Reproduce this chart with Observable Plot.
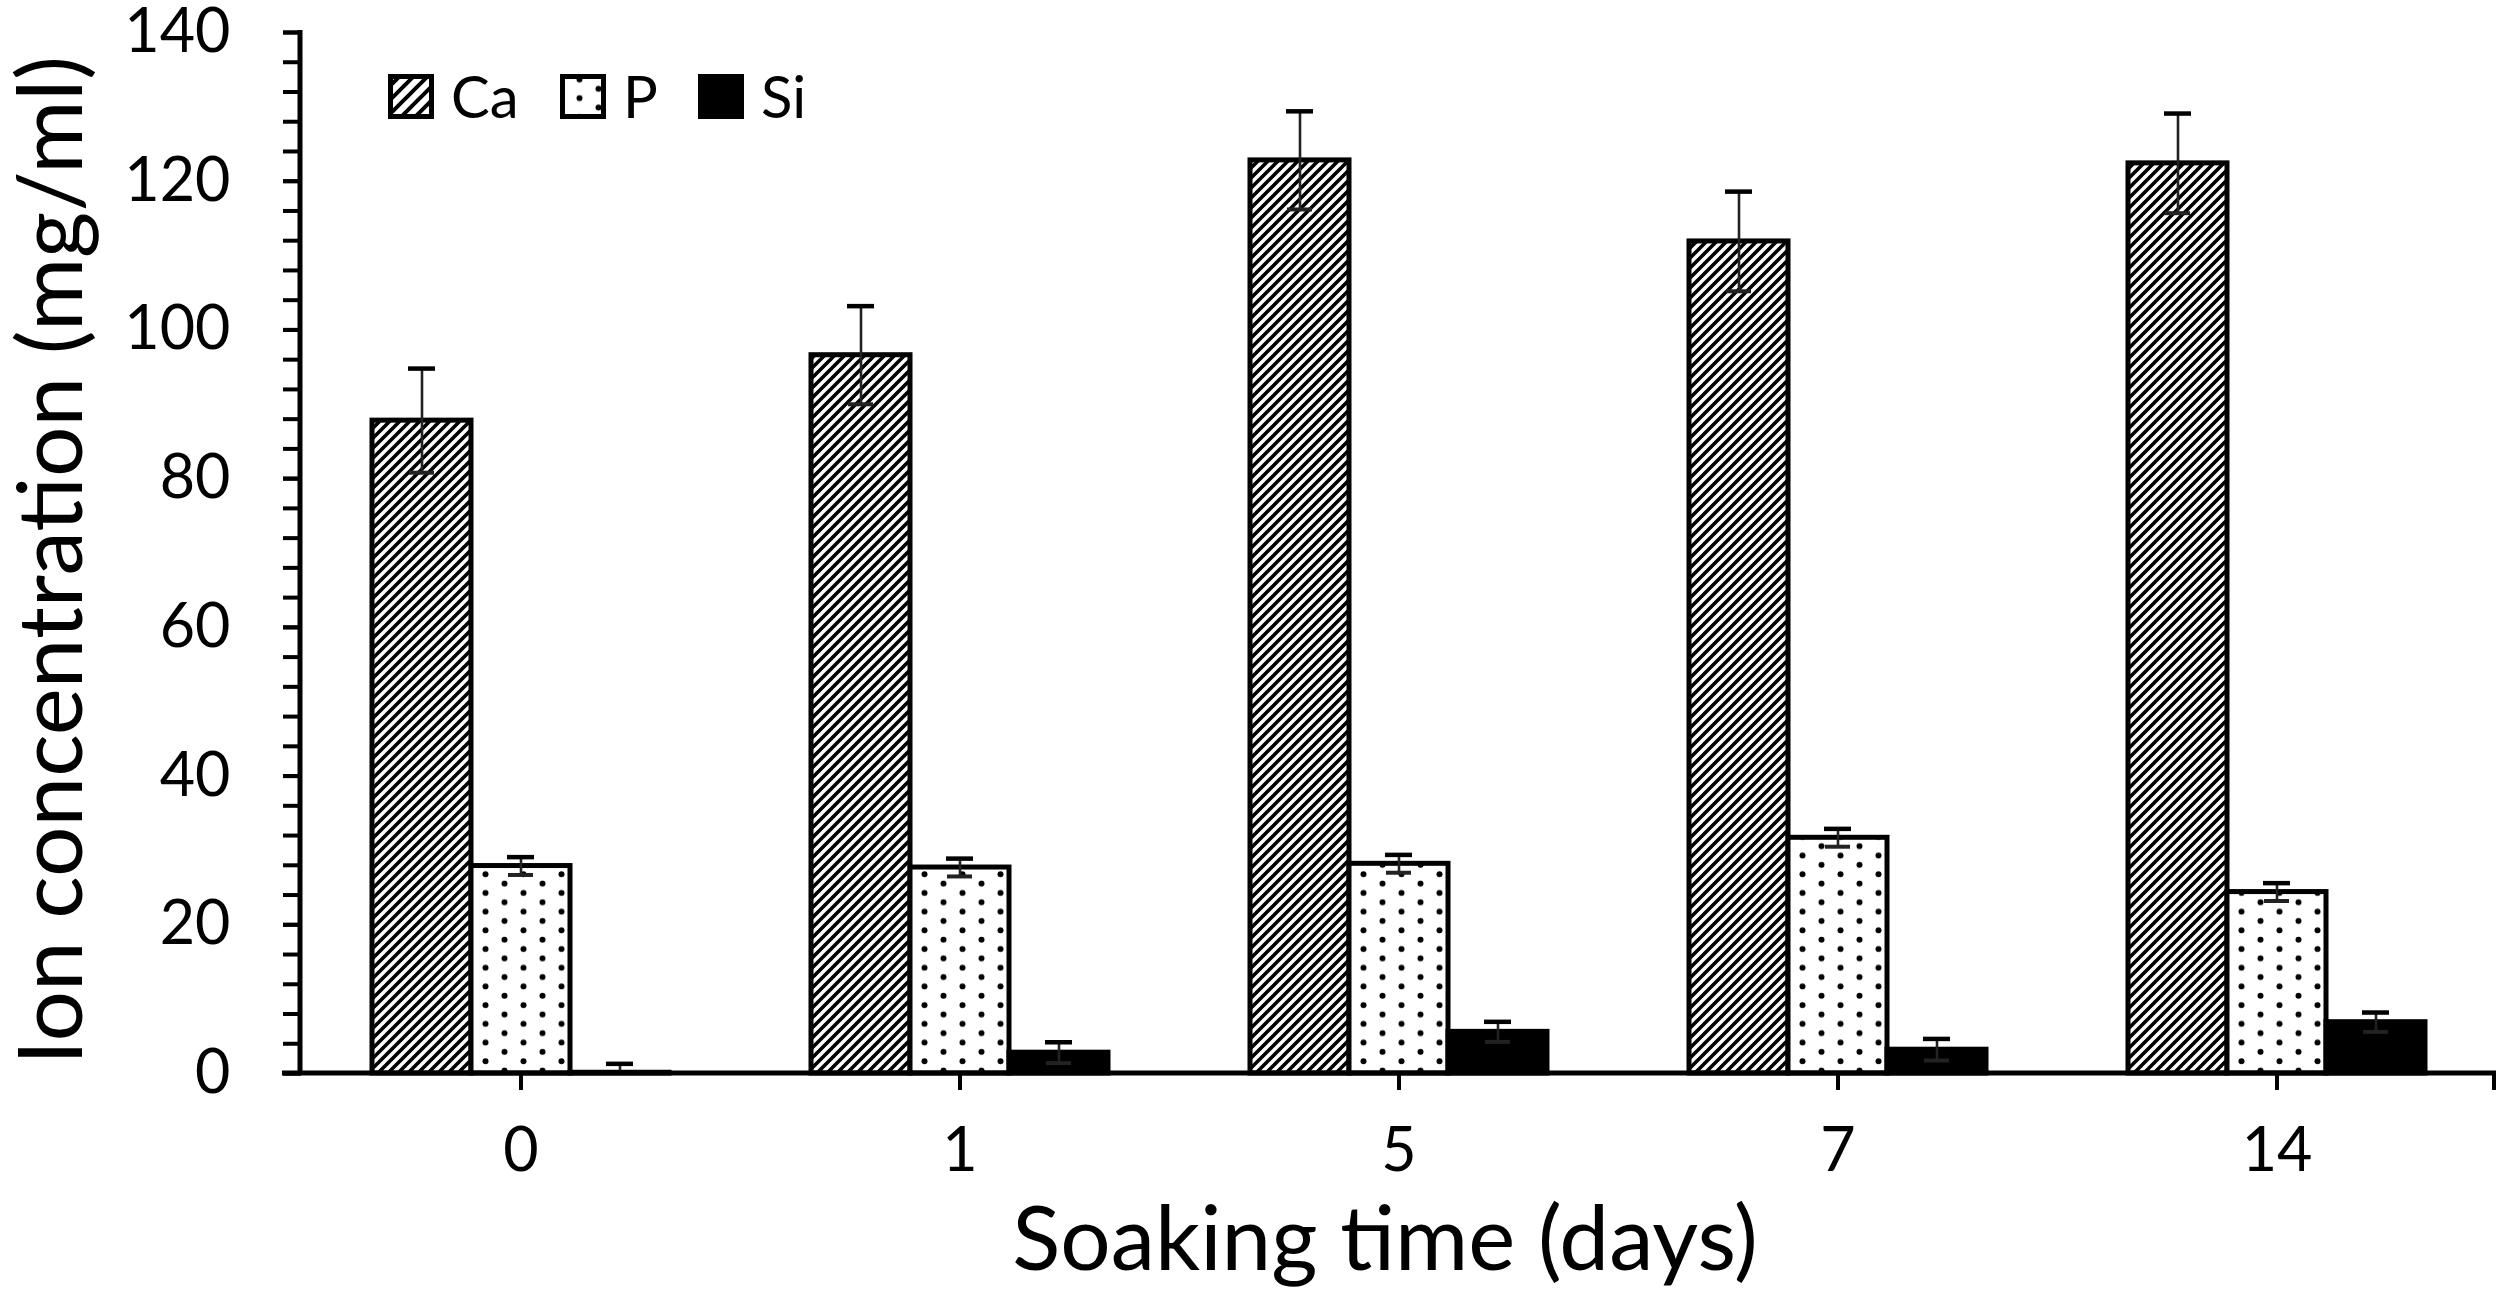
<!DOCTYPE html>
<html>
<head>
<meta charset="utf-8">
<script src="https://cdn.jsdelivr.net/npm/d3@7"></script>
<script src="https://cdn.jsdelivr.net/npm/@observablehq/plot@0.6"></script>
<style>
  html, body { margin: 0; padding: 0; background: #fff; }
  #chart { width: 2508px; height: 1293px; }
</style>
</head>
<body>
<div id="chart"></div>
<script>
const days = ["0", "1", "5", "7", "14"];
const ions = ["Ca", "P", "Si"];
const caValues = [87.8, 96.6, 122.8, 111.9, 122.4];
const caErrors = [7.0, 6.6, 6.6, 6.7, 6.7];
const pValues = [27.9, 27.7, 28.2, 31.7, 24.4];
const pErrors = [1.2, 1.2, 1.2, 1.2, 1.2];
const siValues = [0.1, 2.8, 5.6, 3.2, 6.9];
const siErrors = [1.2, 1.4, 1.35, 1.45, 1.3];
const yMajorTicks = [0, 20, 40, 60, 80, 100, 120, 140];
const yMinorTicks = [0, 4, 8, 12, 16, 20, 24, 28, 32, 36, 40, 44, 48, 52, 56, 60, 64, 68, 72, 76, 80,
  84, 88, 92, 96, 100, 104, 108, 112, 116, 120, 124, 128, 132, 136, 140];
const xTitle = "Soaking time (days)";
const yTitle = "Ion concentration (mg/ml)";

const series = {
  Ca: {values: caValues, errors: caErrors, fill: "url(#hatchCa)"},
  P: {values: pValues, errors: pErrors, fill: "url(#dotsP)"},
  Si: {values: siValues, errors: siErrors, fill: "black"}
};

const rows = days.flatMap((day, i) => ions.map(ion => ({
  day, ion, value: series[ion].values[i], err: series[ion].errors[i]
})));

const barMarks = ions.map(ion => Plot.barY(rows.filter(r => r.ion === ion), {
  fx: "day", x: "ion", y: "value",
  fill: series[ion].fill, stroke: "black", strokeWidth: 5
}));

const lo = r => Math.max(0, r.value - r.err);
const hi = r => r.value + r.err;

const plot = Plot.plot({
  width: 2508,
  height: 1293,
  marginLeft: 300,
  marginRight: 12,
  marginTop: 32,
  marginBottom: 220,
  style: {fontFamily: "Lato, 'Open Sans', sans-serif", color: "black", background: "white", overflow: "visible"},
  fx: {domain: days, paddingInner: 0, paddingOuter: 0, label: null, axis: null},
  x: {domain: ions, paddingInner: 0, paddingOuter: 0.696, axis: null},
  y: {domain: [0, 140], axis: null, label: null},
  marks: [
    ...barMarks,
    Plot.ruleX(rows, {fx: "day", x: "ion", y1: lo, y2: hi, stroke: "#222", strokeWidth: 2.6}),
    Plot.tickY(rows, {fx: "day", x: "ion", y: hi, stroke: "black", strokeWidth: 4.5, insetLeft: 36, insetRight: 36}),
    Plot.tickY(rows.filter(r => r.value - r.err > 0), {fx: "day", x: "ion", y: r => r.value - r.err, stroke: "#222", strokeWidth: 4, insetLeft: 37, insetRight: 37}),
    Plot.axisY({ticks: yMinorTicks, tickSize: 18, tickFormat: () => "", strokeWidth: 4, label: null}),
    Plot.axisY({ticks: yMajorTicks, tickSize: 18, tickPadding: 53, fontSize: 61, strokeWidth: 4, label: null}),
    Plot.axisFx({anchor: "bottom", tickSize: 17, tickPadding: 37, fontSize: 61, strokeWidth: 4, label: null})
  ]
});

document.getElementById("chart").appendChild(plot);

const svg = d3.select(plot);
const defs = svg.insert("defs", ":first-child");

// Ca hatch
const hatch = defs.append("pattern").attr("id", "hatchCa").attr("patternUnits", "userSpaceOnUse")
  .attr("width", 10).attr("height", 10);
hatch.append("rect").attr("width", 10).attr("height", 10).attr("fill", "white");
hatch.append("path").attr("d", "M-2,12 L12,-2 M-2,2 L2,-2 M8,12 L12,8").attr("stroke", "black").attr("stroke-width", 3.6);

const hatchL = defs.append("pattern").attr("id", "hatchLegend").attr("patternUnits", "userSpaceOnUse")
  .attr("width", 14).attr("height", 14);
hatchL.append("rect").attr("width", 14).attr("height", 14).attr("fill", "white");
hatchL.append("path").attr("d", "M-2,16 L16,-2 M-2,2 L2,-2 M12,16 L16,12").attr("stroke", "black").attr("stroke-width", 4);

// P dots
const dots = defs.append("pattern").attr("id", "dotsP").attr("patternUnits", "userSpaceOnUse")
  .attr("width", 38).attr("height", 18.7);
dots.append("rect").attr("width", 38).attr("height", 18.7).attr("fill", "white");
dots.append("circle").attr("cx", 9.5).attr("cy", 4.7).attr("r", 3).attr("fill", "black");
dots.append("circle").attr("cx", 28.5).attr("cy", 14.05).attr("r", 3).attr("fill", "black");

// axis lines through the plot scales
const y = plot.scale("y");
const fx = plot.scale("fx");
const y0 = y.apply(0), yTop = y.apply(140);
const [xL, xR] = fx.range;
svg.append("line").attr("x1", xL).attr("x2", xL).attr("y1", yTop - 2).attr("y2", y0 + 2)
  .attr("stroke", "black").attr("stroke-width", 5);
svg.append("line").attr("x1", xL - 18).attr("x2", xR).attr("y1", y0).attr("y2", y0)
  .attr("stroke", "black").attr("stroke-width", 5);
svg.append("line").attr("x1", xR - 2).attr("x2", xR - 2).attr("y1", y0).attr("y2", y0 + 17)
  .attr("stroke", "black").attr("stroke-width", 4);

// axis titles
svg.append("text").attr("x", (xL + xR) / 2 - 13).attr("y", 1270).attr("text-anchor", "middle")
  .attr("font-size", 89).attr("fill", "black").text(xTitle);
svg.append("text").attr("transform", `translate(82, ${(yTop + y0) / 2 + 8}) rotate(-90)`)
  .attr("text-anchor", "middle").attr("font-size", 89).attr("fill", "black").text(yTitle);

// legend
const legendFills = {Ca: "url(#hatchLegend)", P: "url(#dotsP)", Si: "black"};
const legendX = {Ca: 388, P: 560, Si: 698};
const legend = svg.append("g").attr("text-anchor", "start");
ions.forEach(ion => {
  legend.append("rect").attr("x", legendX[ion] + 2.5).attr("y", 76.5).attr("width", 41).attr("height", 40)
    .attr("fill", legendFills[ion]).attr("stroke", "black").attr("stroke-width", 5);
  legend.append("text").attr("x", legendX[ion] + 63).attr("y", 118).attr("font-size", 58)
    .attr("text-anchor", "start").attr("fill", "black").text(ion);
});
</script>
</body>
</html>
